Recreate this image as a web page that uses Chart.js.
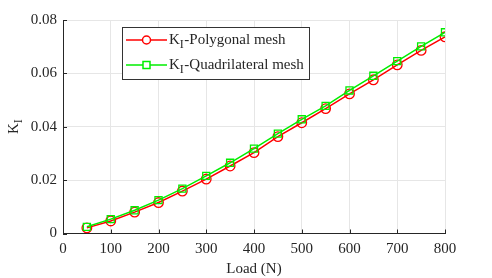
<!DOCTYPE html>
<html>
<head>
<meta charset="utf-8">
<script src="https://cdn.jsdelivr.net/npm/chart.js@4.4.0/dist/chart.umd.min.js"></script>
<style>
  html, body { margin: 0; padding: 0; background: #fff; }
</style>
</head>
<body>
<canvas id="c" width="492" height="278"></canvas>
<script>
// data
let loads = [50, 100, 150, 200, 250, 300, 350, 400, 450, 500, 550, 600, 650, 700, 750, 800];
let polyKI = [0.0021, 0.0047, 0.0080, 0.0116, 0.0159, 0.0204, 0.0253, 0.0303, 0.0363, 0.0415, 0.0468, 0.0523, 0.0576, 0.0632, 0.0686, 0.0737];
let quadKI = [0.0025, 0.0054, 0.0087, 0.0125, 0.0168, 0.0216, 0.0265, 0.0318, 0.0374, 0.0428, 0.0478, 0.0536, 0.0591, 0.0646, 0.0701, 0.0754];
let xTicks = [0, 100, 200, 300, 400, 500, 600, 700, 800];
let yTicks = [0, 0.02, 0.04, 0.06, 0.08];
let seriesNames = ['-Polygonal mesh', '-Quadrilateral mesh'];

const FONT = '"Liberation Serif", "Times New Roman", serif';
const TXT = '#262626';

// draws "K" with subscript "I" followed by the rest
function drawKI(ctx, x, y, rest) {
    ctx.font = '15px ' + FONT;
    ctx.fillText('K', x, y);
    let w = ctx.measureText('K').width;
    ctx.font = '12px ' + FONT;
    ctx.fillText('I', x + w, y + 4.5);
    let w2 = ctx.measureText('I').width;
    if (rest) {
        ctx.font = '15px ' + FONT;
        ctx.fillText(rest, x + w + w2 + 0.5, y);
    }
}

// inside tick marks (matlab style)
const innerTicks = {
    id: 'innerTicks',
    afterDatasetsDraw(c) {
        let ctx = c.ctx, xs = c.scales.x, ys = c.scales.y, a = c.chartArea;
        ctx.save();
        ctx.strokeStyle = TXT;
        ctx.lineWidth = 1;
        ctx.beginPath();
        xTicks.forEach(v => {
            let px = Math.round(xs.getPixelForValue(v)) + 0.5;
            ctx.moveTo(px, a.bottom); ctx.lineTo(px, a.bottom - 4);
        });
        yTicks.forEach(v => {
            let py = Math.round(ys.getPixelForValue(v)) + 0.5;
            ctx.moveTo(a.left, py); ctx.lineTo(a.left + 4, py);
        });
        ctx.stroke();
        ctx.restore();
    }
};

const legendBox = {
    id: 'legendBox',
    afterDraw(c) {
        let ctx = c.ctx;
        ctx.save();
        ctx.fillStyle = '#fff';
        ctx.fillRect(122.5, 27.5, 187, 52);
        ctx.strokeStyle = '#333';
        ctx.lineWidth = 1;
        ctx.strokeRect(122.5, 27.5, 187, 52);

        let rows = [
            { col: c.data.datasets[0].borderColor, style: 'circle', y: 40 },
            { col: c.data.datasets[1].borderColor, style: 'rect', y: 65 }
        ];
        rows.forEach((r, i) => {
            ctx.strokeStyle = r.col;
            ctx.lineWidth = 1.5;
            ctx.beginPath();
            ctx.moveTo(126, r.y); ctx.lineTo(167, r.y);
            ctx.stroke();
            ctx.fillStyle = '#fff';
            ctx.beginPath();
            if (r.style === 'circle') ctx.arc(146.5, r.y, 4, 0, Math.PI * 2);
            else ctx.rect(143, r.y - 3.5, 7, 7);
            ctx.fill();
            ctx.stroke();
            ctx.fillStyle = TXT;
            ctx.textBaseline = 'middle';
            drawKI(ctx, 169, r.y, seriesNames[i]);
        });

        // y axis title K_I
        ctx.save();
        ctx.translate(14, 127);
        ctx.rotate(-Math.PI / 2);
        ctx.textAlign = 'left';
        ctx.textBaseline = 'middle';
        ctx.fillStyle = TXT;
        drawKI(ctx, -7, 0, '');
        ctx.restore();
        ctx.restore();
    }
};

let ch = new Chart(document.getElementById('c').getContext('2d'), {
    type: 'line',
    data: {
        datasets: [{
            label: 'KI' + seriesNames[0],
            data: loads.map((x, i) => ({ x: x, y: polyKI[i] })),
            borderColor: '#ff0000',
            backgroundColor: 'rgba(0,0,0,0)',
            borderWidth: 1.5,
            pointStyle: 'circle',
            pointRadius: 4.8,
            pointBorderWidth: 1.3,
            tension: 0,
            order: 1
        }, {
            label: 'KI' + seriesNames[1],
            data: loads.map((x, i) => ({ x: x, y: quadKI[i] })),
            borderColor: '#00ee00',
            backgroundColor: 'rgba(0,0,0,0)',
            borderWidth: 1.5,
            pointStyle: 'rect',
            pointRadius: 5,
            pointBorderWidth: 1.3,
            tension: 0,
            order: 0
        }]
    },
    options: {
        responsive: false,
        animation: false,
        layout: { padding: { top: 20, right: 47, left: 0, bottom: 0 } },
        plugins: { legend: { display: false }, tooltip: { enabled: false } },
        scales: {
            x: {
                type: 'linear',
                min: 0, max: 800,
                afterBuildTicks: s => { s.ticks = xTicks.map(v => ({ value: v })); },
                afterFit: s => { s.height = 44.5; },
                grid: { color: '#e6e6e6', drawTicks: false },
                border: { color: TXT, width: 1 },
                ticks: { color: TXT, font: { family: FONT, size: 15 }, padding: 7, maxRotation: 0 },
                title: { display: true, text: 'Load (N)', color: TXT, font: { family: FONT, size: 15 }, padding: { top: 0, bottom: 0 } }
            },
            y: {
                min: 0, max: 0.08,
                afterBuildTicks: s => { s.ticks = yTicks.map(v => ({ value: v })); },
                afterFit: s => { s.width = 63; },
                grid: { color: '#e6e6e6', drawTicks: false },
                border: { color: TXT, width: 1 },
                ticks: {
                    color: TXT, font: { family: FONT, size: 15 }, padding: 6,
                    callback: v => v === 0 ? '0' : v.toFixed(2)
                }
            }
        }
    },
    plugins: [innerTicks, legendBox]
});
</script>
</body>
</html>
